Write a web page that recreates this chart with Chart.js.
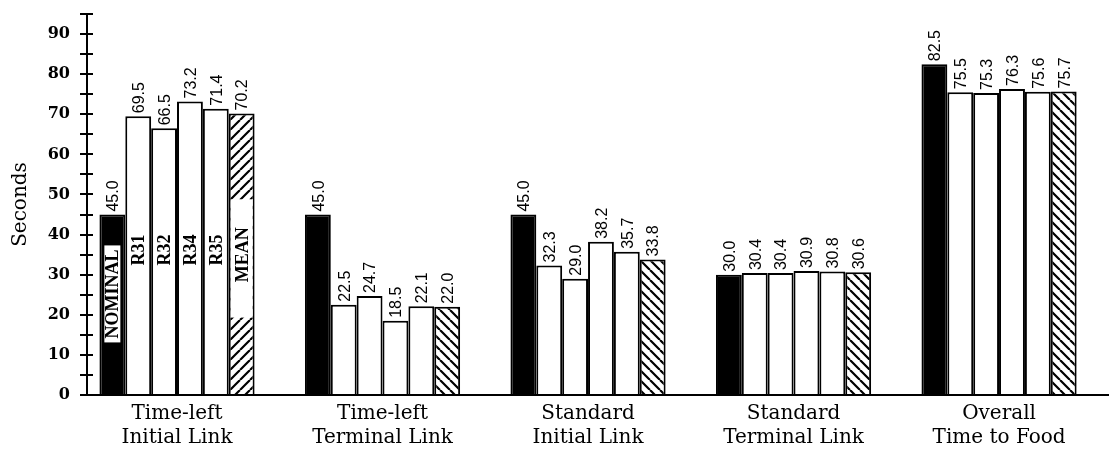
<!DOCTYPE html>
<html>
<head>
<meta charset="utf-8">
<title>Seconds by link</title>
<script src="https://cdn.jsdelivr.net/npm/chart.js@4.4.1/dist/chart.umd.min.js"></script>
<style>
  html, body { margin: 0; padding: 0; background: #fff; }
  #wrap { width: 1109px; height: 449px; position: relative; }
</style>
</head>
<body>
<div id="wrap"><canvas id="chart"></canvas></div>
<script>
// chart values
const groupIndex = [0, 1, 2, 3, 4];
const groupLabels = [
  ['Time-left', 'Initial Link'],
  ['Time-left', 'Terminal Link'],
  ['Standard', 'Initial Link'],
  ['Standard', 'Terminal Link'],
  ['Overall', 'Time to Food']
];
const seriesNames = ['NOMINAL', 'R31', 'R32', 'R34', 'R35', 'MEAN'];
const nominal = [45.0, 45.0, 45.0, 30.0, 82.5];
const r31 = [69.5, 22.5, 32.3, 30.4, 75.5];
const r32 = [66.5, 24.7, 29.0, 30.4, 75.3];
const r34 = [73.2, 18.5, 38.2, 30.9, 76.3];
const r35 = [71.4, 22.1, 35.7, 30.8, 75.6];
const mean = [70.2, 22.0, 33.8, 30.6, 75.7];
const yMin = 0, yMax = 95, yStep = 5, yLabelStep = 10;

const SERIF = '"DejaVu Serif", serif';

// diagonal hatch fill; dir 1 = "\", dir -1 = "/"
function hatch(dir) {
  const s = 10;
  const c = document.createElement('canvas');
  c.width = s; c.height = s;
  const g = c.getContext('2d');
  g.fillStyle = '#fff';
  g.fillRect(0, 0, s, s);
  g.strokeStyle = '#000';
  g.lineWidth = 2.2;
  g.beginPath();
  for (const o of [-s, 0, s]) {
    if (dir > 0) { g.moveTo(o, 0); g.lineTo(o + s, s); }
    else { g.moveTo(o, s); g.lineTo(o + s, 0); }
  }
  g.stroke();
  return g.createPattern(c, 'repeat');
}
const hatchBack = hatch(1);
const hatchFwd = hatch(-1);

const seriesValues = [nominal, r31, r32, r34, r35, mean];
const fills = [
  '#000', '#fff', '#fff', '#fff', '#fff',
  [hatchFwd, hatchBack, hatchBack, hatchBack, hatchBack]
];

const datasets = seriesValues.map((vals, i) => ({
  label: seriesNames[i],
  data: vals,
  backgroundColor: fills[i],
  borderColor: '#000',
  borderWidth: 2,
  categoryPercentage: 0.755,
  barPercentage: 1.0
}));

// value labels above each bar, rotated
const valueLabels = {
  id: 'valueLabels',
  afterDatasetsDraw(chart) {
    const ctx = chart.ctx;
    ctx.save();
    ctx.font = '16px "Liberation Sans", Arial, sans-serif';
    ctx.fillStyle = '#000';
    ctx.textAlign = 'left';
    ctx.textBaseline = 'alphabetic';
    chart.data.datasets.forEach((ds, di) => {
      chart.getDatasetMeta(di).data.forEach((bar, i) => {
        ctx.save();
        ctx.translate(bar.x, bar.y - 3);
        ctx.rotate(-Math.PI / 2);
        ctx.fillText(ds.data[i].toFixed(1), 0, 5.8);
        ctx.restore();
      });
    });
    ctx.restore();
  }
};

// series names written inside the first group's bars
const nameTags = {
  id: 'nameTags',
  afterDatasetsDraw(chart) {
    const ctx = chart.ctx;
    const y = chart.scales.y;
    const tops = [36.3, 40, 40, 40, 40, 41.8];
    const boxes = [null, null, null, null, null, [48.8, 19.3]];
    ctx.save();
    ctx.font = 'bold 18px "Liberation Serif", "Times New Roman", serif';
    ctx.fillStyle = '#000';
    chart.data.datasets.forEach((ds, di) => {
      const bar = chart.getDatasetMeta(di).data[0];
      const name = seriesNames[di];
      const w = ctx.measureText(name).width;
      const top = y.getPixelForValue(tops[di]);
      if (di === 0) {
        ctx.fillStyle = '#fff';
        ctx.fillRect(bar.x - 8, top - 4, 16, w + 8);
        ctx.fillStyle = '#000';
      }
      if (boxes[di]) {
        const y1 = y.getPixelForValue(boxes[di][0]);
        const y2 = y.getPixelForValue(boxes[di][1]);
        ctx.fillStyle = '#fff';
        ctx.fillRect(bar.x - bar.width / 2 + 2, y1, bar.width - 4, y2 - y1);
        ctx.fillStyle = '#000';
      }
      ctx.save();
      ctx.translate(bar.x, top);
      ctx.rotate(-Math.PI / 2);
      ctx.textAlign = 'right';
      ctx.textBaseline = 'alphabetic';
      ctx.fillText(name, 0, 6);
      ctx.restore();
    });
    ctx.restore();
  }
};

// y ticks cross the axis: draw the inner halves
const innerTicks = {
  id: 'innerTicks',
  afterDraw(chart) {
    const ctx = chart.ctx;
    const y = chart.scales.y;
    const x0 = chart.chartArea.left;
    ctx.save();
    ctx.strokeStyle = '#000';
    ctx.lineWidth = 2;
    ctx.beginPath();
    y.ticks.forEach(t => {
      const py = Math.round(y.getPixelForValue(t.value));
      ctx.moveTo(x0, py);
      ctx.lineTo(x0 + 6, py);
    });
    ctx.stroke();
    ctx.restore();
  }
};

new Chart(document.getElementById('chart'), {
  type: 'bar',
  data: { labels: groupIndex, datasets },
  plugins: [valueLabels, nameTags, innerTicks],
  options: {
    responsive: true,
    maintainAspectRatio: false,
    animation: false,
    layout: { padding: { top: 14, right: 0, bottom: 0, left: 0 } },
    plugins: {
      legend: { display: false },
      tooltip: { enabled: false }
    },
    scales: {
      x: {
        type: 'linear',
        offset: false,
        min: -0.438,
        max: 4.535,
        afterFit(scale) { scale.height = 54; },
        grid: { display: false, drawTicks: false },
        border: { color: '#000', width: 2 },
        ticks: {
          stepSize: 1,
          includeBounds: false,
          autoSkip: false,
          maxRotation: 0,
          padding: 7,
          color: '#000',
          font: { family: SERIF, size: 20, lineHeight: 1.18 },
          callback: v => groupLabels[v] || ''
        }
      },
      y: {
        min: yMin,
        max: yMax,
        afterFit(scale) {
          scale.width = 87;
          scale.paddingTop = 0;
          scale.paddingBottom = 0;
        },
        grid: { drawOnChartArea: false, color: '#000', lineWidth: 2, tickLength: 7 },
        border: { color: '#000', width: 2 },
        title: {
          display: true,
          text: 'Seconds',
          color: '#000',
          padding: { top: 9, bottom: 0 },
          font: { family: SERIF, size: 20 }
        },
        ticks: {
          stepSize: yStep,
          autoSkip: false,
          padding: 10,
          color: '#000',
          font: { family: SERIF, size: 16, weight: 'bold' },
          callback: v => (v % yLabelStep === 0 ? String(v) : '')
        }
      }
    }
  }
});
</script>
</body>
</html>
